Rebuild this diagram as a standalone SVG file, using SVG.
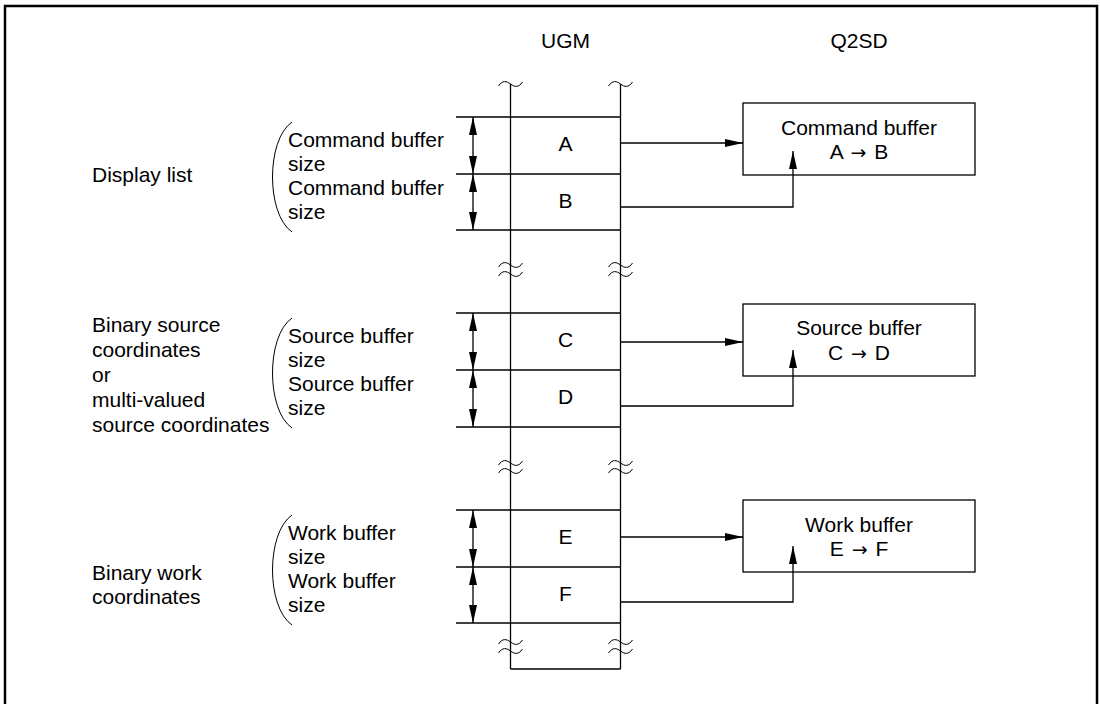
<svg xmlns="http://www.w3.org/2000/svg" xmlns:xlink="http://www.w3.org/1999/xlink" width="1100" height="704" viewBox="0 0 1100 704">
<style>
text{font-family:"Liberation Sans",Arial,sans-serif;font-size:21px;fill:#000}
.c{text-anchor:middle}
.ar{font-family:"DejaVu Sans",sans-serif;font-size:19px}
.ln{stroke:#000;stroke-width:1.3;fill:none}
.br{stroke:#000;stroke-width:1;fill:none}
.frame{stroke:#000;stroke-width:2.5;fill:none}
.box{stroke:#000;stroke-width:1.3;fill:#fff}
</style>
<defs>
<marker id="ah" markerUnits="userSpaceOnUse" markerWidth="18" markerHeight="8" refX="18" refY="4" orient="auto-start-reverse" viewBox="0 0 18 8">
<path d="M0,0 L18,4 L0,8 z" fill="#000"/>
</marker>
<path id="tl" d="M-12,2 C-8,-4 -4,-3 0,0 S8,4 12,-2" fill="none" stroke="#000" stroke-width="1"/>
</defs>
<rect class="frame" x="5" y="6" width="1092" height="710"/>
<text class="c" x="565.5" y="48">UGM</text>
<text class="c" x="859" y="48">Q2SD</text>

<g id="ugm-memory">
<line class="ln" x1="510.5" y1="84" x2="510.5" y2="669"/>
<line class="ln" x1="620.5" y1="84" x2="620.5" y2="669"/>
<line class="ln" x1="510.5" y1="669" x2="620.5" y2="669"/>
<use xlink:href="#tl" x="510.5" y="84"/><use xlink:href="#tl" x="620.5" y="84"/>
<use xlink:href="#tl" x="510.5" y="265"/><use xlink:href="#tl" x="620.5" y="265"/>
<use xlink:href="#tl" x="510.5" y="274"/><use xlink:href="#tl" x="620.5" y="274"/>
<use xlink:href="#tl" x="510.5" y="463"/><use xlink:href="#tl" x="620.5" y="463"/>
<use xlink:href="#tl" x="510.5" y="471"/><use xlink:href="#tl" x="620.5" y="471"/>
<use xlink:href="#tl" x="510.5" y="642"/><use xlink:href="#tl" x="620.5" y="642"/>
<use xlink:href="#tl" x="510.5" y="651"/><use xlink:href="#tl" x="620.5" y="651"/>
</g>

<g id="section-display-list">
<text x="92" y="182">Display list</text>
<path class="br" d="M292,122 C266,140 266,214 292,232"/>
<text x="288" y="147">Command buffer</text>
<text x="288" y="171">size</text>
<text x="288" y="195">Command buffer</text>
<text x="288" y="219">size</text>
<line class="ln" x1="456" y1="117" x2="620.5" y2="117"/>
<line class="ln" x1="456" y1="174" x2="620.5" y2="174"/>
<line class="ln" x1="456" y1="230" x2="620.5" y2="230"/>
<line class="ln" x1="473" y1="117" x2="473" y2="174" marker-start="url(#ah)" marker-end="url(#ah)"/>
<line class="ln" x1="473" y1="174" x2="473" y2="230" marker-start="url(#ah)" marker-end="url(#ah)"/>
<text class="c" x="565.5" y="151">A</text>
<text class="c" x="565.5" y="208">B</text>
</g>

<g id="section-source">
<text x="92" y="332">Binary source</text>
<text x="92" y="357">coordinates</text>
<text x="92" y="382">or</text>
<text x="92" y="407">multi-valued</text>
<text x="92" y="432">source coordinates</text>
<path class="br" d="M292,318 C266,336 266,410 292,428"/>
<text x="288" y="343">Source buffer</text>
<text x="288" y="367">size</text>
<text x="288" y="391">Source buffer</text>
<text x="288" y="415">size</text>
<line class="ln" x1="456" y1="313" x2="620.5" y2="313"/>
<line class="ln" x1="456" y1="370" x2="620.5" y2="370"/>
<line class="ln" x1="456" y1="427" x2="620.5" y2="427"/>
<line class="ln" x1="473" y1="313" x2="473" y2="370" marker-start="url(#ah)" marker-end="url(#ah)"/>
<line class="ln" x1="473" y1="370" x2="473" y2="427" marker-start="url(#ah)" marker-end="url(#ah)"/>
<text class="c" x="565.5" y="347">C</text>
<text class="c" x="565.5" y="404">D</text>
</g>

<g id="section-work">
<text x="92" y="580">Binary work</text>
<text x="92" y="604">coordinates</text>
<path class="br" d="M292,515 C266,533 266,607 292,625"/>
<text x="288" y="540">Work buffer</text>
<text x="288" y="564">size</text>
<text x="288" y="588">Work buffer</text>
<text x="288" y="612">size</text>
<line class="ln" x1="456" y1="510" x2="620.5" y2="510"/>
<line class="ln" x1="456" y1="567" x2="620.5" y2="567"/>
<line class="ln" x1="456" y1="623" x2="620.5" y2="623"/>
<line class="ln" x1="473" y1="510" x2="473" y2="567" marker-start="url(#ah)" marker-end="url(#ah)"/>
<line class="ln" x1="473" y1="567" x2="473" y2="623" marker-start="url(#ah)" marker-end="url(#ah)"/>
<text class="c" x="565.5" y="544">E</text>
<text class="c" x="565.5" y="601">F</text>
</g>

<g id="q2sd-command-buffer">
<rect class="box" x="743" y="103" width="232" height="72"/>
<text class="c" x="859" y="135">Command buffer</text>
<text class="c" x="859" y="159">A <tspan class="ar" dx="2">→</tspan><tspan dx="2"> B</tspan></text>
</g>
<g id="q2sd-source-buffer">
<rect class="box" x="743" y="304" width="232" height="72"/>
<text class="c" x="859" y="335">Source buffer</text>
<text class="c" x="859" y="360">C <tspan class="ar" dx="2">→</tspan><tspan dx="2"> D</tspan></text>
</g>
<g id="q2sd-work-buffer">
<rect class="box" x="743" y="500" width="232" height="72"/>
<text class="c" x="859" y="532">Work buffer</text>
<text class="c" x="859" y="556">E <tspan class="ar" dx="2">→</tspan><tspan dx="2"> F</tspan></text>
</g>

<g id="connectors">
<line class="ln" x1="621" y1="143" x2="743" y2="143" marker-end="url(#ah)"/>
<polyline class="ln" points="621,207 793,207 793,151" marker-end="url(#ah)"/>
<line class="ln" x1="621" y1="342" x2="743" y2="342" marker-end="url(#ah)"/>
<polyline class="ln" points="621,406 793,406 793,350" marker-end="url(#ah)"/>
<line class="ln" x1="621" y1="537" x2="743" y2="537" marker-end="url(#ah)"/>
<polyline class="ln" points="621,602 793,602 793,546" marker-end="url(#ah)"/>
</g>
</svg>
